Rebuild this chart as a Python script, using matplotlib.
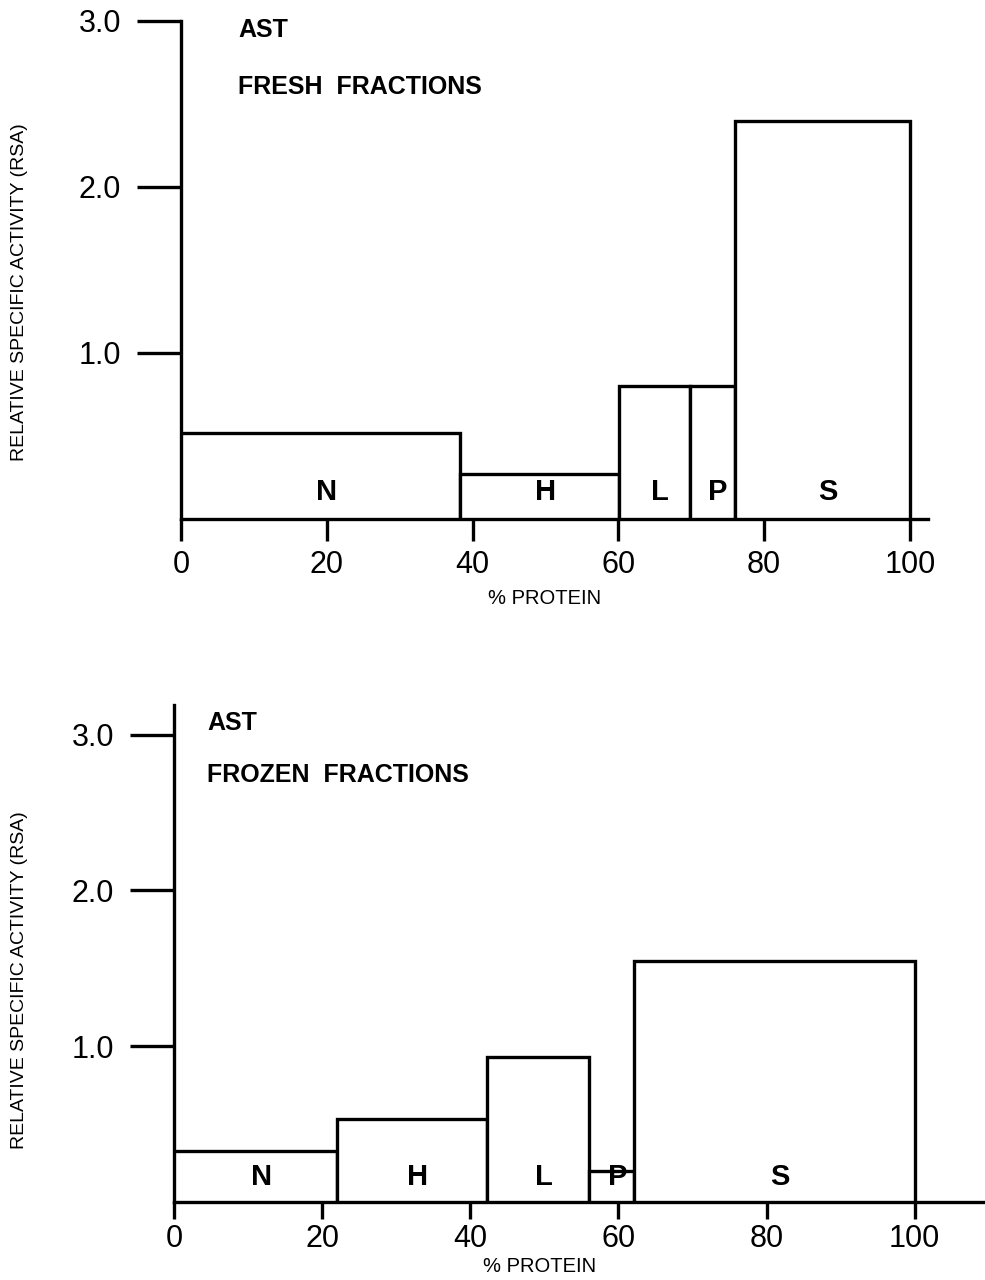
import matplotlib
matplotlib.use("Agg")
import matplotlib.pyplot as plt

plt.rcParams['font.family'] = ['Liberation Sans', 'DejaVu Sans']

# Data
fractions = ["N", "H", "L", "P", "S"]
fresh_edges = [0, 38.3, 60.1, 69.8, 76.0, 100.0]
fresh_rsa = [0.52, 0.27, 0.80, 0.80, 2.40]
frozen_edges = [0, 22.0, 42.2, 56.1, 62.1, 100.0]
frozen_rsa = [0.33, 0.53, 0.93, 0.20, 1.55]
x_ticks = [0, 20, 40, 60, 80, 100]
y_ticks = [1.0, 2.0, 3.0]
y_tick_labels = ["1.0", "2.0", "3.0"]

W, H = 985, 1280
fig = plt.figure(figsize=(W / 100, H / 100), dpi=100)

LW = 2.4


def panel(rect, edges, vals, xlim, ylim, t1, t2, tpos, ylab_y, xtick_len,
          xpad):
    ax = fig.add_axes(rect)
    lefts = edges[:-1]
    widths = [edges[i + 1] - edges[i] for i in range(len(vals))]
    ax.bar(lefts, vals, width=widths, align='edge', facecolor='white',
           edgecolor='black', linewidth=LW, zorder=3)
    for lft, w, name in zip(lefts, widths, fractions):
        ax.text(lft + w / 2 + 0.8, 0.16, name, ha='center', va='center',
                fontsize=21, fontweight='bold', zorder=4)
    ax.set_xlim(*xlim)
    ax.set_ylim(*ylim)
    for s in ['top', 'right']:
        ax.spines[s].set_visible(False)
    for s in ['left', 'bottom']:
        ax.spines[s].set_linewidth(LW)
    ax.set_xticks(x_ticks)
    ax.set_xticklabels([str(v) for v in x_ticks])
    ax.set_yticks(y_ticks)
    ax.set_yticklabels(y_tick_labels)
    ax.tick_params(axis='y', direction='out', length=32, width=LW, pad=11,
                   labelsize=22)
    ax.tick_params(axis='x', direction='out', length=xtick_len, width=LW,
                   pad=xpad, labelsize=22)
    fig.text(tpos[0], tpos[1], t1, fontsize=18, fontweight='bold',
             va='center', ha='left')
    fig.text(tpos[0], tpos[2], t2, fontsize=18, fontweight='bold',
             va='center', ha='left')
    fig.text(20 / W, 1 - ylab_y / H, "RELATIVE SPECIFIC ACTIVITY (RSA)",
             rotation=90, ha='center', va='center', fontsize=14)
    return ax


# top panel: x 0 -> 181 px, right end 928 px (102.5); y 0 -> 519 px, 3.0 -> 21 px
ax1 = panel([181 / W, 1 - 519 / H, (928 - 181) / W, (519 - 21) / H],
            fresh_edges, fresh_rsa, (0, 102.5), (0, 3.0),
            "AST", "FRESH  FRACTIONS", (238 / W, 1 - 30 / H, 1 - 87 / H),
            292, 16, 6)
fig.text(545 / W, 1 - 598 / H, "% PROTEIN", ha='center', va='center',
         fontsize=14.5)

# bottom panel: x 0 -> 174 px, right end 985 px (109.5); y 0 -> 1202, 3.19 -> 705
ax2 = panel([174 / W, 1 - 1202 / H, (985 - 174) / W, (1202 - 705) / H],
            frozen_edges, frozen_rsa, (0, 109.5), (0, 3.19),
            "AST", "FROZEN  FRACTIONS", (207 / W, 1 - 723 / H, 1 - 775 / H),
            980, 12, 4)
fig.text(540 / W, 1 - 1267 / H, "% PROTEIN", ha='center', va='center',
         fontsize=14.5)

fig.savefig("out.png", dpi=100, facecolor='white')
